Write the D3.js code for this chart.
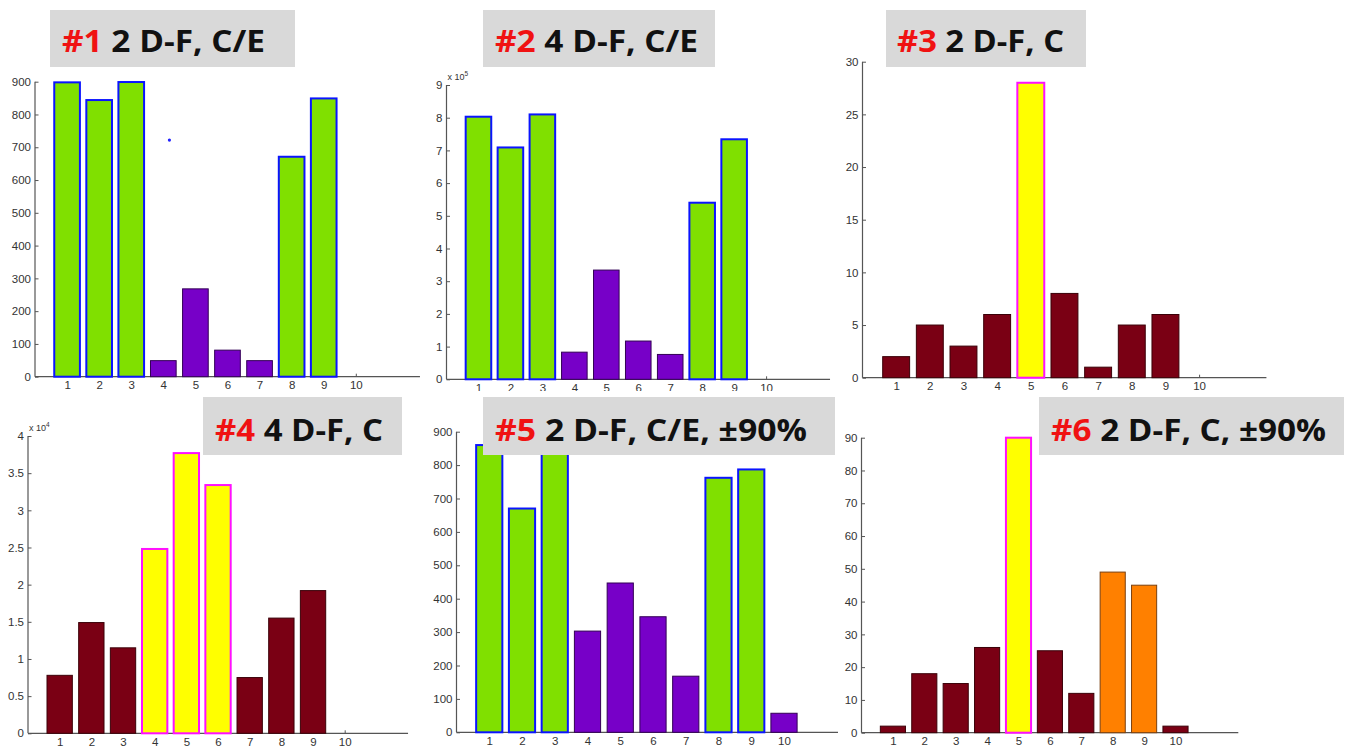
<!DOCTYPE html>
<html><head><meta charset="utf-8">
<script src="https://cdn.jsdelivr.net/npm/d3@7"></script>
<style>body{margin:0;background:#fff;overflow:hidden} svg{display:block}</style>
</head><body>
<svg id="c" width="1346" height="751"></svg>
<script>
// ---------- DATA ----------
const categories = [1, 2, 3, 4, 5, 6, 7, 8, 9, 10];

const p1Values = [898, 844, 899, 49, 268, 81, 49, 671, 849, 0];
const p1Groups = ["CE", "CE", "CE", "O", "O", "O", "O", "CE", "CE", "O"];
const p1Stray = [[4.19, 722]];
const p1Ticks = [0, 100, 200, 300, 400, 500, 600, 700, 800, 900];

const p2Values = [8.03, 7.09, 8.10, 0.83, 3.34, 1.17, 0.76, 5.40, 7.34, 0]; // x 10^5
const p2Groups = ["CE", "CE", "CE", "O", "O", "O", "O", "CE", "CE", "O"];
const p2Ticks = [0, 1, 2, 3, 4, 5, 6, 7, 8, 9];

const p3Values = [2, 5, 3, 6, 28, 8, 1, 5, 6, 0];
const p3Groups = ["N", "N", "N", "N", "Y", "N", "N", "N", "N", "N"];
const p3Ticks = [0, 5, 10, 15, 20, 25, 30];

const p4Values = [0.78, 1.49, 1.15, 2.48, 3.77, 3.34, 0.75, 1.55, 1.92, 0]; // x 10^4
const p4Groups = ["N", "N", "N", "Y", "Y", "Y", "N", "N", "N", "N"];
const p4Ticks = [0, 0.5, 1, 1.5, 2, 2.5, 3, 3.5, 4];

const p5Values = [860, 670, 870, 303, 447, 346, 168, 762, 787, 57];
const p5Groups = ["CE", "CE", "CE", "O", "O", "O", "O", "CE", "CE", "O"];
const p5Ticks = [0, 100, 200, 300, 400, 500, 600, 700, 800, 900];

const p6Values = [2, 18, 15, 26, 90, 25, 12, 49, 45, 2];
const p6Groups = ["N", "N", "N", "N", "Y", "N", "N", "A", "A", "N"];
const p6Ticks = [0, 10, 20, 30, 40, 50, 60, 70, 80, 90];

const titleNums = ["#1", "#2", "#3", "#4", "#5", "#6"];
const titleTexts = ["2 D-F, C/E", "4 D-F, C/E", "2 D-F, C", "4 D-F, C", "2 D-F, C/E, \u00b190%", "2 D-F, C, \u00b190%"];
const exponents = [null, "5", null, "4", null, null];

// ---------- STYLES ----------
const groupStyle = {
  CE: {fill: "#80e000", stroke: "#0a14ff", sw: 2},
  O:  {fill: "#7700c8", stroke: "#330055", sw: 1},
  N:  {fill: "#7a0014", stroke: "#3a0008", sw: 1},
  Y:  {fill: "#ffff00", stroke: "#ff10ff", sw: 2},
  A:  {fill: "#ff8000", stroke: "#7a4010", sw: 1}
};

// ---------- LAYOUT ----------
const panels = [
  {values: p1Values, groups: p1Groups, ticks: p1Ticks, ymax: 900, x0: 35, step: 32.08, yZero: 376.7, yTop: 81.7, clip: "top", stray: p1Stray},
  {values: p2Values, groups: p2Groups, ticks: p2Ticks, ymax: 9, x0: 446.5, step: 31.96, yZero: 379.3, yTop: 85, clip: "top"},
  {values: p3Values, groups: p3Groups, ticks: p3Ticks, ymax: 30, x0: 862.5, step: 33.66, yZero: 377.7, yTop: 61.7, clip: "top"},
  {values: p4Values, groups: p4Groups, ticks: p4Ticks, ymax: 4, x0: 28, step: 31.67, yZero: 733.3, yTop: 436, clip: null},
  {values: p5Values, groups: p5Groups, ticks: p5Ticks, ymax: 900, x0: 456.5, step: 32.75, yZero: 732.3, yTop: 431.7, clip: "p5"},
  {values: p6Values, groups: p6Groups, ticks: p6Ticks, ymax: 90, x0: 861.5, step: 31.4, yZero: 732.7, yTop: 437.7, clip: null}
];
const boxes = [
  {x: 50, y: 10, w: 245, h: 57, tx: 62, ty: 52, tw: 203},
  {x: 483, y: 10, w: 232, h: 57, tx: 495, ty: 52, tw: 203},
  {x: 886, y: 10, w: 200, h: 57, tx: 897, ty: 52, tw: 167},
  {x: 203, y: 397, w: 199, h: 58, tx: 215, ty: 441, tw: 168},
  {x: 483, y: 397, w: 352, h: 58, tx: 495, ty: 441, tw: 312},
  {x: 1039, y: 397, w: 305, h: 58, tx: 1051, ty: 441, tw: 275}
];

const svg = d3.select("#c");
const defs = svg.append("defs");
defs.append("clipPath").attr("id", "clip-top").append("rect").attr("x", 0).attr("y", 0).attr("width", 1346).attr("height", 391);
defs.append("clipPath").attr("id", "clip-p5").append("rect").attr("x", 0).attr("y", 0).attr("width", 838).attr("height", 751);

const axisColor = "#555";
const labelFont = "'Liberation Sans', Arial, sans-serif";

panels.forEach((p, i) => {
  const g = svg.append("g");
  if (p.clip) g.attr("clip-path", `url(#clip-${p.clip})`);
  const x = d3.scaleLinear().domain([0, 12]).range([p.x0, p.x0 + 12 * p.step]);
  const y = d3.scaleLinear().domain([0, p.ymax]).range([p.yZero, p.yTop]);
  const bw = 0.8 * p.step;

  // x axis (ticks inward)
  const xAxis = d3.axisBottom(x).tickValues(categories).tickSize(-3).tickPadding(6)
    .tickFormat(d3.format("d"));
  const gx = g.append("g").attr("transform", `translate(0,${p.yZero})`).call(xAxis);
  gx.select(".domain").attr("stroke", axisColor).attr("stroke-width", 1.2).attr("d", `M${x(0)},0H${x(12)}`);
  gx.selectAll(".tick line").attr("stroke", axisColor);
  gx.selectAll(".tick text").attr("fill", "#333").attr("font-size", 11.5).attr("font-family", labelFont).attr("dy", "0.55em");

  // y axis (ticks inward)
  const yAxis = d3.axisLeft(y).tickValues(p.ticks).tickSize(-3.5).tickPadding(4)
    .tickFormat(d => String(d));
  const gy = g.append("g").attr("transform", `translate(${p.x0},0)`).call(yAxis);
  gy.select(".domain").attr("stroke", axisColor).attr("stroke-width", 1.2).attr("d", `M0,${y(0)}V${y(p.ymax)}`);
  gy.selectAll(".tick line").attr("stroke", axisColor);
  gy.selectAll(".tick text").attr("fill", "#333").attr("font-size", 11.5).attr("font-family", labelFont);

  // bars
  g.selectAll("rect.bar").data(p.values).enter().append("rect")
    .attr("class", "bar")
    .attr("x", (d, j) => x(categories[j]) - bw / 2)
    .attr("width", bw)
    .attr("y", d => y(d))
    .attr("height", d => y(0) - y(d))
    .attr("fill", (d, j) => groupStyle[p.groups[j]].fill)
    .attr("stroke", (d, j) => groupStyle[p.groups[j]].stroke)
    .attr("stroke-width", (d, j) => groupStyle[p.groups[j]].sw);

  if (p.stray) {
    g.selectAll("circle.stray").data(p.stray).enter().append("circle")
      .attr("cx", d => x(d[0])).attr("cy", d => y(d[1])).attr("r", 1.6).attr("fill", "#2020ff");
  }

  // exponent label
  if (exponents[i]) {
    const t = g.append("text").attr("x", p.x0 + 1).attr("y", y(p.ymax) - 5)
      .attr("font-size", 9).attr("font-family", labelFont).attr("fill", "#333");
    t.append("tspan").text("x 10");
    t.append("tspan").attr("dy", -4.5).attr("font-size", 6.5).text(exponents[i]);
  }
});

// title boxes
boxes.forEach((b, i) => {
  svg.append("rect").attr("x", b.x).attr("y", b.y).attr("width", b.w).attr("height", b.h).attr("fill", "#d9d9d9");
  const t = svg.append("text").attr("x", b.tx).attr("y", b.ty)
    .attr("font-family", "'Open Sans', Lato, sans-serif").attr("font-weight", 700).attr("font-size", 31)
    .attr("textLength", b.tw).attr("lengthAdjust", "spacingAndGlyphs");
  t.append("tspan").attr("fill", "#f01212").text(titleNums[i]);
  t.append("tspan").attr("fill", "#111").text(" " + titleTexts[i]);
});
</script>
</body></html>
